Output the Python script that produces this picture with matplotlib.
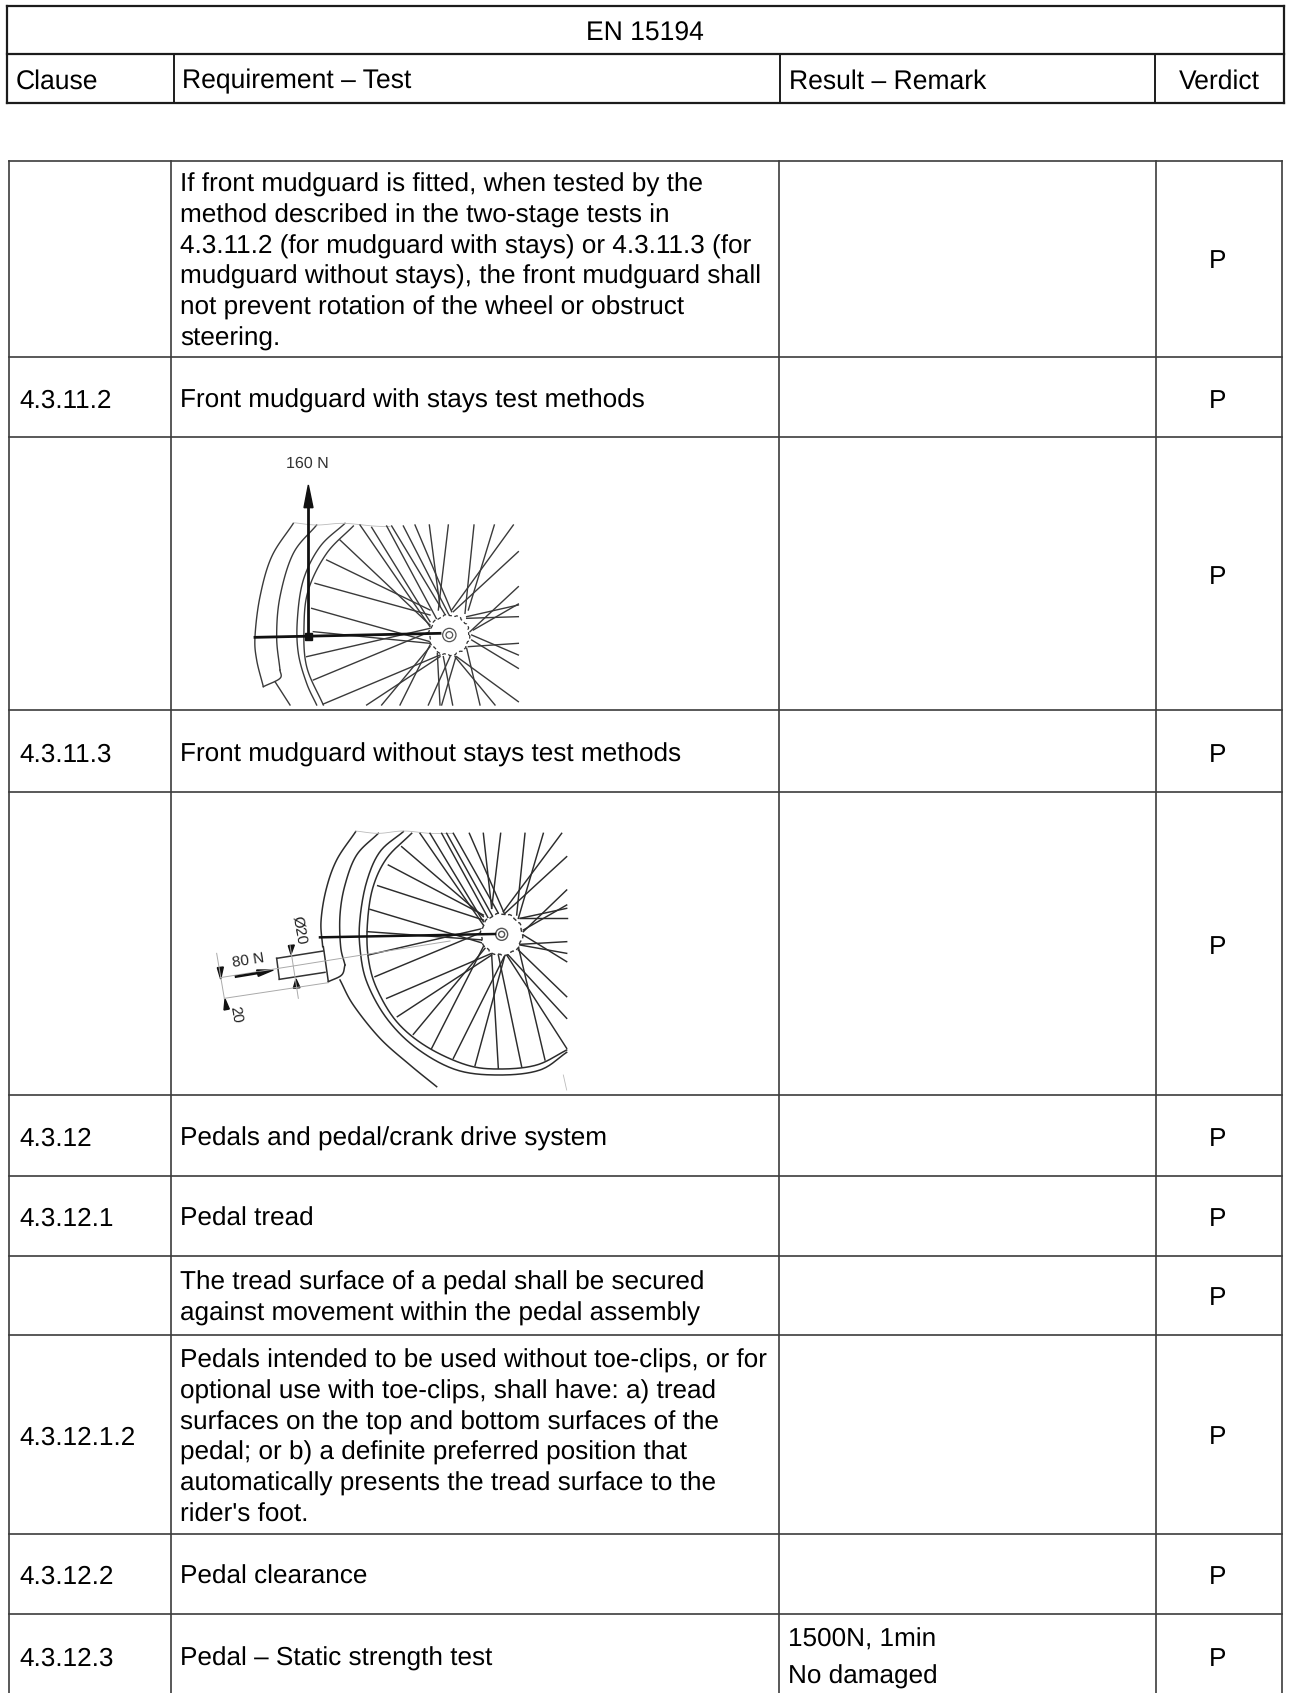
import numpy as np
import matplotlib
matplotlib.use("Agg")
import matplotlib.pyplot as plt
from matplotlib.patches import Polygon, Rectangle, Circle

plt.rcParams['font.family'] = ['Liberation Sans', 'DejaVu Sans']
plt.rcParams['text.hinting'] = 'no_hinting'
plt.rcParams['text.hinting_factor'] = 8

W, H = 1289, 1693
FS_HEAD = 19.1
FS = 18.8
INK = '#1c1c1c'
BODY_INK = '#3c3c3c'

title = "EN 15194"
header_labels = ["Clause", "Requirement – Test", "Result – Remark", "Verdict"]

clauses = ["", "4.3.11.2", "", "4.3.11.3", "", "4.3.12", "4.3.12.1", "", "4.3.12.1.2",
           "4.3.12.2", "4.3.12.3"]
requirements = [
    ["If front mudguard is fitted, when tested by the",
     "method described in the two-stage tests in",
     "4.3.11.2 (for mudguard with stays) or 4.3.11.3 (for",
     "mudguard without stays), the front mudguard shall",
     "not prevent rotation of the wheel or obstruct",
     "steering."],
    ["Front mudguard with stays test methods"],
    [],
    ["Front mudguard without stays test methods"],
    [],
    ["Pedals and pedal/crank drive system"],
    ["Pedal tread"],
    ["The tread surface of a pedal shall be secured",
     "against movement within the pedal assembly"],
    ["Pedals intended to be used without toe-clips, or for",
     "optional use with toe-clips, shall have: a) tread",
     "surfaces on the top and bottom surfaces of the",
     "pedal; or b) a definite preferred position that",
     "automatically presents the tread surface to the",
     "rider's foot."],
    ["Pedal clearance"],
    ["Pedal – Static strength test"],
]
remarks = [[], [], [], [], [], [], [], [], [], [], ["1500N, 1min", "No damaged"]]
verdicts = ["P"] * 11

# layout in reference pixels
head_x = [6.5, 173.5, 780, 1155, 1284]
head_y = [5.5, 54, 103]
body_x = [9, 171, 779, 1156, 1282]
body_y = [161, 357, 437, 710, 792, 1095, 1176, 1256, 1335, 1534, 1614]
row_mid = [259, 398, 575, 752.5, 945, 1136, 1216, 1295.5, 1435, 1574, 1656]
LINE = 30.7

fig = plt.figure(figsize=(W / 100, H / 100), dpi=100)
ax = fig.add_axes([0, 0, 1, 1])
ax.set_xlim(0, W)
ax.set_ylim(H, 0)
ax.axis('off')


def txt(x, mid, s, ha='left', fs=FS):
    ax.text(x, mid + 9.5, s, fontsize=fs, color='black', ha=ha, va='baseline')


# header table
for x in head_x[1:-1]:
    ax.plot([x, x], [head_y[1], head_y[2]], color=INK, lw=1.4)
for x in (head_x[0], head_x[-1]):
    ax.plot([x, x], [head_y[0], head_y[2]], color=INK, lw=1.6, solid_capstyle='projecting')
for y in head_y:
    ax.plot([head_x[0], head_x[-1]], [y, y], color=INK, lw=1.6, solid_capstyle='projecting')
txt(645, 31, title, ha='center', fs=FS_HEAD)
txt(16, 78.8, header_labels[0], fs=FS_HEAD)
txt(182, 78.8, header_labels[1], fs=FS_HEAD)
txt(789, 78.8, header_labels[2], fs=FS_HEAD)
txt(1179, 78.8, header_labels[3], fs=FS_HEAD)

# body table
for x in body_x:
    ax.plot([x, x], [body_y[0], H + 2], color=BODY_INK, lw=1.2)
for y in body_y:
    ax.plot([body_x[0], body_x[-1]], [y, y], color=BODY_INK, lw=1.2, solid_capstyle='projecting')
for clause, req, rem, ver, mid in zip(clauses, requirements, remarks, verdicts, row_mid):
    if clause:
        txt(19, mid, clause)
    n = len(req)
    for k, line in enumerate(req):
        txt(180, mid + (k - (n - 1) / 2) * LINE, line)
    if rem:
        txt(788, 1637.5, rem[0])
        txt(788, 1674.5, rem[1])
    txt(1218, mid, ver, ha='center')


def smooth(pts, n=16):
    p = np.array(pts, float)
    p = np.vstack([2 * p[0] - p[1], p, 2 * p[-1] - p[-2]])
    out = []
    for i in range(1, len(p) - 2):
        t = np.linspace(0, 1, n, endpoint=False)[:, None]
        a, b, c, d = p[i - 1], p[i], p[i + 1], p[i + 2]
        out.append(0.5 * (2 * b + (c - a) * t + (2 * a - 5 * b + 4 * c - d) * t ** 2
                          + (3 * b - a - 3 * c + d) * t ** 3))
    out.append(p[-2][None])
    return np.vstack(out)


# ---- first drawing (sketch coordinates are 3x reference pixels) ----
SK1 = (200, 440)
def s1(pts):
    a = np.array(pts, float)
    return a / 3 + SK1

arcs1 = [
    [(280, 250), (215, 350), (180, 470), (165, 590), (170, 660), (190, 740)],
    [(350, 255), (280, 340), (240, 470), (230, 590), (240, 690)],
    [(190, 740), (240, 715), (240, 690)],
    [(225, 725), (270, 795)],
    [(435, 250), (360, 320), (310, 420), (292, 540), (295, 640), (320, 730), (350, 795)],
    [(460, 258), (380, 340), (325, 450), (312, 560), (320, 680), (370, 795)],
]
spokes1 = [
    ((420, 300), (690, 555)), ((380, 360), (690, 510)), ((345, 430), (690, 525)),
    ((335, 505), (690, 605)), ((320, 650), (690, 565)), ((340, 720), (690, 575)),
    ((370, 792), (720, 645)), ((500, 795), (720, 650)), ((545, 795), (690, 620)),
    ((600, 795), (690, 615)), ((480, 255), (690, 560)), ((515, 262), (690, 545)),
    ((560, 258), (725, 565)), ((575, 258), (745, 540)), ((610, 258), (760, 550)),
    ((645, 255), (755, 515)), ((688, 255), (720, 500)), ((745, 255), (715, 510)),
    ((822, 255), (795, 520)), ((883, 255), (805, 510)), ((940, 255), (755, 510)),
    ((955, 335), (760, 515)), ((955, 440), (810, 575)), ((955, 495), (800, 530)),
    ((955, 530), (800, 535)), ((955, 492), (820, 570)), ((955, 610), (805, 620)),
    ((955, 645), (815, 585)), ((955, 685), (815, 600)), ((955, 785), (770, 650)),
    ((885, 795), (765, 650)), ((840, 795), (800, 625)), ((758, 795), (730, 650)),
    ((725, 795), (768, 650)), ((685, 795), (750, 650)), ((720, 795), (712, 640)),
    ((340, 575), (690, 610)),
]
hub1 = (748, 585)
break1 = [(280, 248), (350, 255), (430, 250), (520, 258), (570, 260)]


def draw_hub(to, hub, r, r1, r2, lw):
    th = np.linspace(0, 2 * np.pi, 90)
    rr = r * (1 + 0.03 * np.sign(np.sin(th * 10)))
    c = to(np.c_[hub[0] + rr * np.cos(th), hub[1] + rr * np.sin(th)])
    ax.fill(c[:, 0], c[:, 1], fc='white', ec='none', zorder=2.5)
    ax.plot(c[:, 0], c[:, 1], color='#333333', lw=lw, ls=(0, (3, 2)), zorder=2.6)
    for q in (r1, r2):
        h = to([hub])[0]
        ax.add_patch(Circle(h, q / 3, fill=q == r1, fc='white', ec='#555555', lw=lw, zorder=3))


for a in arcs1:
    c = s1(smooth(a))
    ax.plot(c[:, 0], c[:, 1], color='#3a3a3a', lw=1.0)
c = s1(smooth(break1))
ax.plot(c[:, 0], c[:, 1], color='#bbbbbb', lw=0.6)
for a, b in spokes1:
    c = s1([a, b])
    ax.plot(c[:, 0], c[:, 1], color='#3a3a3a', lw=1.0)
draw_hub(s1, hub1, 60, 20, 10, 0.9)
c = s1([(165, 592), (720, 580)])
ax.plot(c[:, 0], c[:, 1], color='#111111', lw=2.0, zorder=4)
c = s1([(325, 590), (325, 195)])
ax.plot(c[:, 0], c[:, 1], color='#111111', lw=2.0, zorder=4)
ax.add_patch(Polygon(s1([(325, 135), (339, 203), (312, 203)]), color='#111111', zorder=4))
ax.add_patch(Rectangle(s1([(314, 580)])[0], 7, 7, color='#111111', zorder=4))
ax.text(*s1([(322, 70)])[0], "160 N", fontsize=11.5, color='#333333', ha='center', va='center')

# ---- second drawing ----
SK2 = (190, 815)
def s2(pts):
    a = np.array(pts, float)
    return a / 3 + SK2

arcs2 = [
    [(497, 50), (440, 135), (408, 225), (393, 320), (398, 395)],
    [(565, 55), (500, 120), (465, 210), (450, 300), (452, 395), (465, 450)],
    [(465, 450), (455, 480), (415, 500)],
    [(415, 500), (400, 395)],
    [(450, 495), (490, 570), (570, 670), (660, 750), (740, 815)],
    [(640, 50), (570, 110), (530, 200), (510, 310), (510, 400), (530, 500), (590, 610),
     (680, 700), (800, 765), (930, 780), (1050, 765), (1130, 712)],
    [(665, 55), (590, 130), (548, 220), (532, 330), (535, 430), (560, 520), (620, 620),
     (710, 695), (830, 750), (930, 762), (1040, 750), (1130, 705)],
]
spokes2 = [
    ((635, 95), (880, 305)), ((595, 150), (880, 300)), ((563, 212), (880, 315)),
    ((540, 283), (880, 385)), ((532, 350), (880, 375)), ((535, 420), (880, 340)),
    ((555, 485), (880, 350)), ((590, 550), (905, 415)), ((622, 605), (905, 420)),
    ((670, 658), (885, 400)), ((725, 700), (880, 395)), ((790, 730), (945, 420)),
    ((855, 752), (945, 420)), ((925, 760), (905, 420)), ((995, 755), (925, 420)),
    ((1065, 735), (985, 395)), ((1130, 700), (950, 420)), ((1130, 610), (955, 420)),
    ((1130, 545), (985, 405)), ((1130, 415), (990, 390)), ((1130, 380), (990, 388)),
    ((1130, 280), (990, 310)), ((1130, 310), (990, 310)), ((1130, 225), (1000, 350)),
    ((1130, 270), (1000, 345)), ((1130, 125), (945, 295)), ((1115, 55), (940, 290)),
    ((1060, 55), (985, 310)), ((1005, 55), (980, 300)), ((932, 55), (905, 280)),
    ((880, 55), (905, 280)), ((838, 55), (945, 300)), ((770, 55), (925, 335)),
    ((790, 55), (945, 330)), ((690, 55), (880, 330)), ((720, 55), (880, 320)),
    ((755, 55), (895, 310)), ((1000, 360), (1130, 440)),
]
hub2 = (935, 358)
break2 = [(497, 48), (565, 55), (640, 48), (720, 55), (790, 55)]
tail2 = [(1120, 780), (1130, 825)]

for a in arcs2:
    c = s2(smooth(a))
    ax.plot(c[:, 0], c[:, 1], color='#2c2c2c', lw=1.1)
c = s2(smooth(break2))
ax.plot(c[:, 0], c[:, 1], color='#bbbbbb', lw=0.6)
c = s2(tail2)
ax.plot(c[:, 0], c[:, 1], color='#bbbbbb', lw=0.6)
for a, b in spokes2:
    c = s2([a, b])
    ax.plot(c[:, 0], c[:, 1], color='#2c2c2c', lw=1.05)
draw_hub(s2, hub2, 62, 18, 9, 1.0)

for seg in [((260, 430), (400, 408)), ((268, 493), (405, 472)), ((260, 430), (268, 493))]:
    c = s2(seg)
    ax.plot(c[:, 0], c[:, 1], color='#333333', lw=1.1)
for seg in [((80, 415), (103, 550)), ((90, 488), (780, 378)), ((103, 550), (415, 503)),
            ((300, 390), (325, 550))]:
    c = s2(seg)
    ax.plot(c[:, 0], c[:, 1], color='#aaaaaa', lw=0.7)
c = s2([(390, 367), (915, 357)])
ax.plot(c[:, 0], c[:, 1], color='#111111', lw=1.8, zorder=4)
c = s2([(138, 485), (205, 474)])
ax.plot(c[:, 0], c[:, 1], color='#111111', lw=1.8)
for tri in [[(250, 465), (200, 465), (205, 484)], [(303, 418), (295, 392), (313, 390)],
            [(318, 492), (310, 520), (330, 518)], [(92, 492), (82, 458), (100, 456)],
            [(105, 552), (102, 585), (118, 582)]]:
    ax.add_patch(Polygon(s2(tri), color='#111111'))
ax.text(*s2([(176, 438)])[0], "80 N", fontsize=11, color='#222222', rotation=9,
        ha='center', va='center')
ax.text(*s2([(325, 347)])[0], "Ø20", fontsize=11, color='#222222', rotation=-80,
        ha='center', va='center')
ax.text(*s2([(138, 600)])[0], "20", fontsize=11, color='#222222', rotation=-80,
        ha='center', va='center')

fig.savefig("out.png", dpi=100, facecolor='white')
